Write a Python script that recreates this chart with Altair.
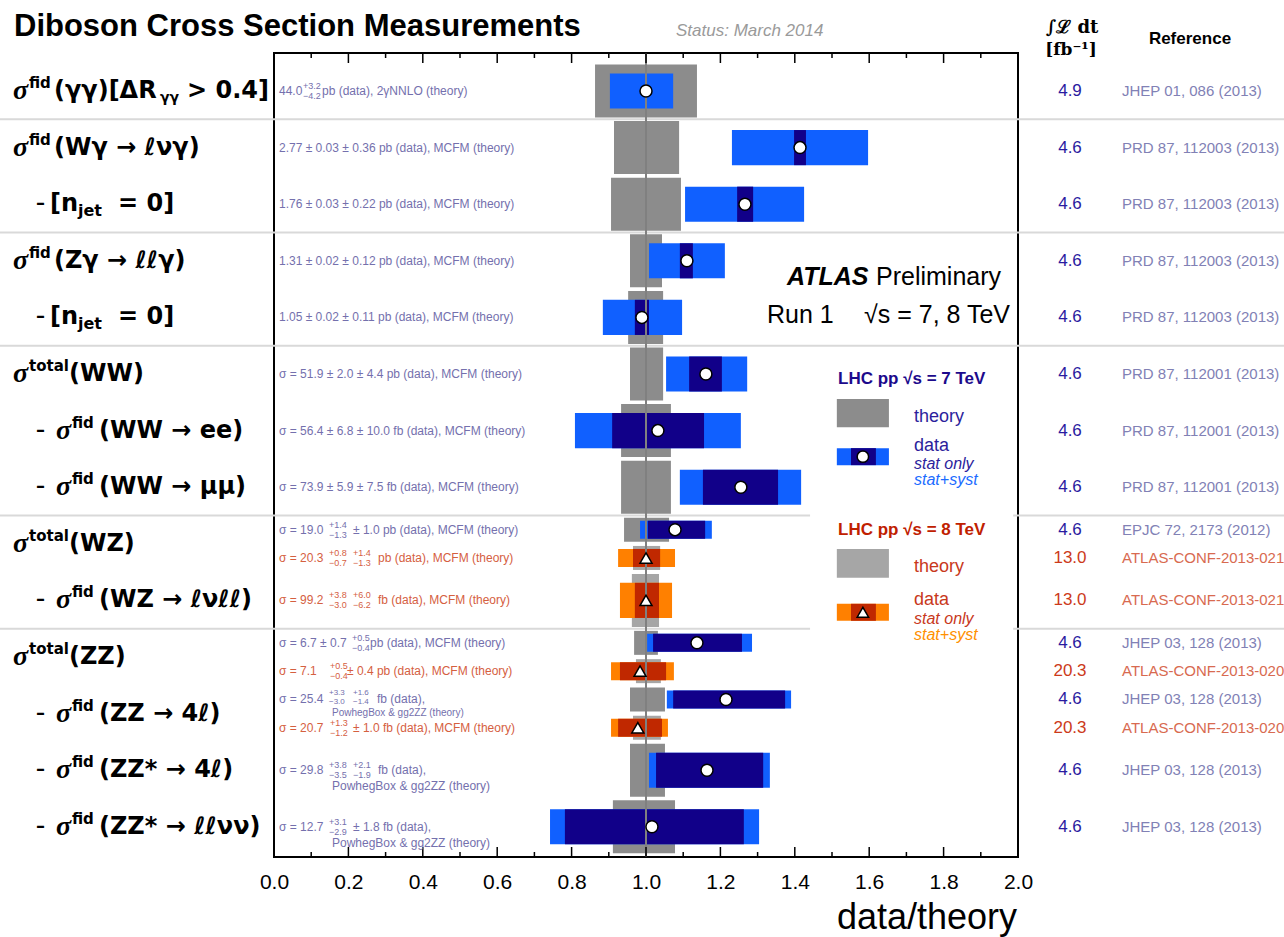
import altair as alt
import pandas as pd

# ---------------- data (ratios data/theory) ----------------
row_pos   = [0, 1, 2, 3, 4, 5, 6, 7, 7.75, 8.25, 9, 9.75, 10.25, 10.75, 11.25, 12, 13]
energy    = [7, 7, 7, 7, 7, 7, 7, 7, 7, 8, 8, 7, 8, 7, 8, 7, 7]
row_kind  = ["full"] * 8 + ["half", "half", "full", "half", "half", "half", "half", "full", "full"]
theory_lo = [0.863, 0.914, 0.906, 0.957, 0.952, 0.957, 0.933, 0.933, 0.941, 0.965, 0.962, 0.968, 0.973, 0.957, 0.965, 0.957, 0.911]
theory_hi = [1.137, 1.089, 1.094, 1.043, 1.046, 1.046, 1.067, 1.067, 1.062, 1.038, 1.035, 1.032, 1.040, 1.051, 1.040, 1.051, 1.078]
total_lo  = [0.903, 1.231, 1.105, 1.008, 0.884, 1.054, 0.809, 1.091, 0.984, 0.925, 0.930, 1.003, 0.906, 1.056, 0.906, 1.008, 0.742]
total_hi  = [1.073, 1.597, 1.425, 1.212, 1.097, 1.272, 1.255, 1.417, 1.177, 1.078, 1.070, 1.285, 1.075, 1.390, 1.059, 1.333, 1.304]
stat_lo   = [1.000, 1.398, 1.245, 1.091, 0.970, 1.116, 0.909, 1.153, 1.005, 0.965, 0.970, 1.019, 0.930, 1.073, 0.925, 1.027, 0.782]
stat_hi   = [1.000, 1.430, 1.288, 1.126, 1.008, 1.204, 1.156, 1.355, 1.159, 1.038, 1.035, 1.258, 1.054, 1.374, 1.043, 1.315, 1.263]
central   = [1.000, 1.414, 1.266, 1.110, 0.989, 1.161, 1.032, 1.255, 1.078, 1.000, 1.000, 1.137, 0.984, 1.215, 0.978, 1.164, 1.016]
lumi_vals = ["4.9", "4.6", "4.6", "4.6", "4.6", "4.6", "4.6", "4.6", "4.6", "13.0", "13.0",
             "4.6", "20.3", "4.6", "20.3", "4.6", "4.6"]
references = ["JHEP 01, 086 (2013)", "PRD 87, 112003 (2013)", "PRD 87, 112003 (2013)",
              "PRD 87, 112003 (2013)", "PRD 87, 112003 (2013)", "PRD 87, 112001 (2013)",
              "PRD 87, 112001 (2013)", "PRD 87, 112001 (2013)", "EPJC 72, 2173 (2012)",
              "ATLAS-CONF-2013-021", "ATLAS-CONF-2013-021", "JHEP 03, 128 (2013)",
              "ATLAS-CONF-2013-020", "JHEP 03, 128 (2013)", "ATLAS-CONF-2013-020",
              "JHEP 03, 128 (2013)", "JHEP 03, 128 (2013)"]
separators = [0.5, 2.5, 4.5, 7.5, 9.5]
MAJOR = [0.0, 0.2, 0.4, 0.6, 0.8, 1.0, 1.2, 1.4, 1.6, 1.8, 2.0]
MINOR = [0.1, 0.3, 0.5, 0.7, 0.9, 1.1, 1.3, 1.5, 1.7, 1.9]

# ---------------- layout / style ----------------
LEFT, TOP, W, H = 274, 53, 744, 804
UNIT, Y0 = 56.6, 91
ydom = [-(Y0 - TOP) / UNIT, (TOP + H - Y0) / UNIT]
yscale = alt.Scale(domain=ydom, reverse=True, nice=False, zero=False)
xscale = alt.Scale(domain=[0, 2], nice=False, zero=False)
NARROW = "Liberation Sans Narrow, Liberation Sans"
SANS = "Liberation Sans"
XA = alt.Axis(values=MAJOR, format=".1f", ticks=False, domain=False, grid=False,
              labelFontSize=21, labelFont=NARROW, labelColor="black", labelPadding=14,
              labelFlush=False, labelOverlap=False, title=None)


def X(f):
    return alt.X(f, type="quantitative", scale=xscale, axis=XA)


def Y(f):
    return alt.Y(f, type="quantitative", scale=yscale, axis=None)


half_th = {"full": 0.936 / 2, "half": 0.424 / 2}
half_da = {"full": 0.62 / 2, "half": 0.318 / 2}

df = pd.DataFrame(dict(pos=row_pos, e=energy, kind=row_kind, th_lo=theory_lo, th_hi=theory_hi,
                       to_lo=total_lo, to_hi=total_hi, st_lo=stat_lo, st_hi=stat_hi, c=central))
df["th_y"] = df.pos - df.kind.map(half_th)
df["th_y2"] = df.pos + df.kind.map(half_th)
df["da_y"] = df.pos - df.kind.map(half_da)
df["da_y2"] = df.pos + df.kind.map(half_da)
df["th_col"] = df.e.map({7: "#8c8c8c", 8: "#a6a6a6"})
df["sy_col"] = df.e.map({7: "#1060ff", 8: "#ff8000"})
df["st_col"] = df.e.map({7: "#110089", 8: "#c02800"})
df["shp"] = df.e.map({7: "circle", 8: "triangle-up"})

NOC = dict(legend=None, scale=None)

sep = alt.Chart(pd.DataFrame({"s": separators})).mark_rule(color="#d9d9d9", strokeWidth=2).encode(
    y=Y("s"), x=alt.value(-LEFT), x2=alt.value(1284 - LEFT))

theory = alt.Chart(df).mark_rect().encode(
    x=X("th_lo"), x2="th_hi", y=Y("th_y"), y2="th_y2", color=alt.Color("th_col:N", **NOC))
syst = alt.Chart(df).mark_rect().encode(
    x=X("to_lo"), x2="to_hi", y=Y("da_y"), y2="da_y2", color=alt.Color("sy_col:N", **NOC))
stat = alt.Chart(df).mark_rect().encode(
    x=X("st_lo"), x2="st_hi", y=Y("da_y"), y2="da_y2", color=alt.Color("st_col:N", **NOC))

legbg = alt.Chart(pd.DataFrame({"a": [1.441], "b": [1.987], "c": [4.66], "d": [9.79]})).mark_rect(
    color="white").encode(x=X("a"), x2="b", y=Y("c"), y2="d")

vline = alt.Chart(pd.DataFrame({"v": [1.0]})).mark_rule(color="#808080", strokeWidth=2).encode(
    x=X("v"), y=alt.value(0), y2=alt.value(H))

markers = alt.Chart(df).mark_point(filled=True, fill="white", stroke="black", strokeWidth=1.5,
                                   size=144, opacity=1).encode(
    x=X("c"), y=Y("pos"), shape=alt.Shape("shp:N", **NOC))

tk = pd.DataFrame({"v": MAJOR + MINOR, "len": [10] * len(MAJOR) + [5] * len(MINOR)})
tk["b"] = H - tk["len"]
ticks_top = alt.Chart(tk).mark_rule(color="black", strokeWidth=1.5).encode(
    x=X("v"), y=alt.Y("len:Q", scale=None, axis=None), y2=alt.value(0))
ticks_bot = alt.Chart(tk).mark_rule(color="black", strokeWidth=1.5).encode(
    x=X("v"), y=alt.Y("b:Q", scale=None, axis=None), y2=alt.value(H))

# legend graphics (in data units)
leg = pd.DataFrame({
    "a": [1.513, 1.513, 1.551, 1.513, 1.513, 1.551],
    "b": [1.653, 1.653, 1.618, 1.653, 1.653, 1.618],
    "c": [5.44, 6.31, 6.31, 8.09, 9.06, 9.06],
    "d": [5.94, 6.61, 6.61, 8.60, 9.36, 9.36],
    "col": ["#8c8c8c", "#1060ff", "#110089", "#a6a6a6", "#ff8000", "#c02800"]})
leg_rect = alt.Chart(leg).mark_rect().encode(x=X("a"), x2="b", y=Y("c"), y2="d",
                                             color=alt.Color("col:N", **NOC))
legm = pd.DataFrame({"x": [1.583, 1.583], "y": [6.46, 9.21], "shp": ["circle", "triangle-up"]})
leg_mark = alt.Chart(legm).mark_point(filled=True, fill="white", stroke="black", strokeWidth=1.5,
                                      size=130, opacity=1).encode(
    x=X("x"), y=Y("y"), shape=alt.Shape("shp:N", **NOC))


# ---------------- text helpers ----------------
def row_text(rows, dy=0, font=SANS, weight="normal", style="normal", align="left"):
    d = pd.DataFrame(rows, columns=["row", "X", "t", "fs", "col"])
    d["px"] = d["X"] - LEFT
    return alt.Chart(d).mark_text(dy=dy, font=font, fontWeight=weight, fontStyle=style,
                                  align=align, baseline="middle").encode(
        x=alt.X("px:Q", scale=None, axis=None), y=Y("row"), text="t:N",
        size=alt.Size("fs:Q", **NOC), color=alt.Color("col:N", **NOC))


def abs_text(rows, font=SANS, weight="normal", style="normal", align="left", baseline="middle"):
    d = pd.DataFrame(rows, columns=["X", "Y", "t", "fs", "col"])
    d["px"] = d["X"] - LEFT
    d["py"] = d["Y"] - TOP
    return alt.Chart(d).mark_text(font=font, fontWeight=weight, fontStyle=style,
                                  align=align, baseline=baseline).encode(
        x=alt.X("px:Q", scale=None, axis=None), y=alt.Y("py:Q", scale=None, axis=None),
        text="t:N", size=alt.Size("fs:Q", **NOC), color=alt.Color("col:N", **NOC))


E = dict(zip(row_pos, energy))
C7, C8 = "#7470ad", "#d5603f"


def ac(r):
    return C7 if E[r] == 7 else C8


ann_main = [
    (0, 279, "44.0"), (0, 322, "pb (data), 2γNNLO (theory)"),
    (1, 279, "2.77 ± 0.03 ± 0.36 pb (data), MCFM (theory)"),
    (2, 279, "1.76 ± 0.03 ± 0.22 pb (data), MCFM (theory)"),
    (3, 279, "1.31 ± 0.02 ± 0.12 pb (data), MCFM (theory)"),
    (4, 279, "1.05 ± 0.02 ± 0.11 pb (data), MCFM (theory)"),
    (5, 279, "σ = 51.9 ± 2.0 ± 4.4 pb (data), MCFM (theory)"),
    (6, 279, "σ = 56.4 ± 6.8 ± 10.0 fb (data), MCFM (theory)"),
    (7, 279, "σ = 73.9 ± 5.9 ± 7.5 fb (data), MCFM (theory)"),
    (7.75, 279, "σ = 19.0"), (7.75, 353, "± 1.0 pb (data), MCFM (theory)"),
    (8.25, 279, "σ = 20.3"), (8.25, 378, "pb (data), MCFM (theory)"),
    (9, 279, "σ = 99.2"), (9, 378, "fb (data), MCFM (theory)"),
    (9.75, 279, "σ = 6.7 ± 0.7"), (9.75, 370, "pb (data), MCFM (theory)"),
    (10.25, 279, "σ = 7.1"), (10.25, 347, "± 0.4 pb (data), MCFM (theory)"),
    (10.75, 279, "σ = 25.4"), (10.75, 377, "fb (data),"),
    (11.25, 279, "σ = 20.7"), (11.25, 353, "± 1.0 fb (data), MCFM (theory)"),
    (12, 279, "σ = 29.8"), (12, 378, "fb (data),"),
    (13, 279, "σ = 12.7"), (13, 353, "± 1.8 fb (data),"),
]
ann_sup = [(0, 303, "+3.2"), (7.75, 329, "+1.4"), (8.25, 329, "+0.8"), (8.25, 353, "+1.4"),
           (9, 329, "+3.8"), (9, 353, "+6.0"), (9.75, 352, "+0.5"), (10.25, 330, "+0.5"),
           (11.25, 330, "+1.3"), (12, 329, "+3.8"),
           (12, 353, "+2.1"), (13, 329, "+3.1")]
ann_sub = [(0, 303, "−4.2"), (7.75, 329, "−1.3"), (8.25, 329, "−0.7"), (8.25, 353, "−1.3"),
           (9, 329, "−3.0"), (9, 353, "−6.2"), (9.75, 352, "−0.4"), (10.25, 330, "−0.4"),
           (11.25, 330, "−1.2"), (12, 329, "−3.5"),
           (12, 353, "−1.9"), (13, 329, "−2.9")]
# the crowded ZZ -> 4l (7 TeV) entry
ann_sup_t = [(10.75, 329, "+3.3"), (10.75, 353, "+1.6")]
ann_sub_t = [(10.75, 329, "−3.0"), (10.75, 353, "−1.4")]
ann_l2_tight = [(10.75, 332, "PowhegBox & gg2ZZ (theory)")]
ann_l2 = [(12, 332, "PowhegBox & gg2ZZ (theory)"), (13, 332, "PowhegBox & gg2ZZ (theory)")]

t_ann = row_text([(r, x, t, 12, ac(r)) for r, x, t in ann_main])
t_sup = row_text([(r, x, t, 9, ac(r)) for r, x, t in ann_sup], dy=-5)
t_sub = row_text([(r, x, t, 9, ac(r)) for r, x, t in ann_sub], dy=5)
t_sup_t = row_text([(r, x, t, 8, ac(r)) for r, x, t in ann_sup_t], dy=-6)
t_sub_t = row_text([(r, x, t, 8, ac(r)) for r, x, t in ann_sub_t], dy=3)
t_l2 = row_text([(r, x, t, 12, ac(r)) for r, x, t in ann_l2], dy=16)
t_l2b = row_text([(r, x, t, 10, ac(r)) for r, x, t in ann_l2_tight], dy=14)

# left-hand labels
top_rows, sub_rows = [0, 1, 3, 5, 8, 10], [6, 7, 9, 11, 12, 13]
lab_sigma = row_text([(r, 13, "σ", 28, "black") for r in top_rows] +
                     [(r, 56, "σ", 28, "black") for r in sub_rows],
                     font="Liberation Serif", weight="bold", style="italic")
lab_sup = row_text([(0, 29, "fid", 15, "black"), (1, 29, "fid", 15, "black"), (3, 29, "fid", 15, "black"),
                    (5, 29, "total", 15, "black"), (8, 29, "total", 15, "black"), (10, 29, "total", 15, "black")] +
                   [(r, 72, "fid", 15, "black") for r in sub_rows],
                   dy=-8, font="DejaVu Sans", weight="bold")
lab_main = row_text([
    (0, 54, "(γγ)[ΔR", 24, "black"), (0, 187, "> 0.4]", 24, "black"),
    (1, 54, "(Wγ → ℓνγ)", 24, "black"),
    (2, 50, "[n", 24, "black"), (2, 118, "= 0]", 24, "black"),
    (3, 54, "(Zγ → ℓℓγ)", 24, "black"),
    (4, 50, "[n", 24, "black"), (4, 118, "= 0]", 24, "black"),
    (5, 69, "(WW)", 24, "black"),
    (6, 99, "(WW → ee)", 24, "black"),
    (7, 99, "(WW → μμ)", 24, "black"),
    (8, 69, "(WZ)", 24, "black"),
    (9, 99, "(WZ → ℓνℓℓ)", 24, "black"),
    (10, 69, "(ZZ)", 24, "black"),
    (11, 99, "(ZZ → 4ℓ)", 24, "black"),
    (12, 99, "(ZZ* → 4ℓ)", 24, "black"),
    (13, 99, "(ZZ* → ℓℓνν)", 24, "black"),
], font="DejaVu Sans", weight="bold")
lab_sub = row_text([(0, 160, "γγ", 14, "black"), (2, 78, "jet", 16, "black"), (4, 78, "jet", 16, "black")],
                   dy=7, font="DejaVu Sans", weight="bold")
lab_dash = row_text([(r, 36, "–", 18, "black") for r in [2, 4, 6, 7, 9, 11, 12, 13]],
                    font="DejaVu Sans", weight="bold")

# right-hand columns
t_lumi = row_text([(r, 1070, v, 17, "#2a1aa0" if e == 7 else "#cc3a1a")
                   for r, v, e in zip(row_pos, lumi_vals, energy)], align="center")
t_ref = row_text([(r, 1122, v, 15, "#8181b5" if e == 7 else "#d86a50")
                  for r, v, e in zip(row_pos, references, energy)])

# headers and annotations
h_title = abs_text([(14, 36, "Diboson Cross Section Measurements", 31, "black")], weight="bold",
                   baseline="alphabetic")
h_status = abs_text([(676, 36, "Status: March 2014", 17, "#9a9a9a")], style="italic", baseline="alphabetic")
h_ref = abs_text([(1190, 39, "Reference", 17, "black")], weight="bold", align="center")
h_lumi = abs_text([(1072, 28, "∫ℒ dt", 18, "black"), (1071, 50, "[fb⁻¹]", 17, "black")],
                  font="DejaVu Serif", weight="bold", align="center")
h_atlas = abs_text([(787, 277, "ATLAS", 25, "black")], weight="bold", style="italic")
h_prel = abs_text([(876, 277, "Preliminary", 25, "black"), (767, 315, "Run 1", 25, "black")])
h_sqrt = abs_text([(1010, 315, "√s = 7, 8 TeV", 25, "black")], align="right")
h_xt = abs_text([(1017, 918, "data/theory", 36, "black")], font=NARROW, align="right")

leg_title = abs_text([(838, 379, "LHC pp  √s = 7 TeV", 17, "#1c0a8c"),
                      (838, 530, "LHC pp  √s = 8 TeV", 17, "#c02000")], weight="bold")
leg_txt = abs_text([(914, 417, "theory", 18, "#2c1e9c"), (914, 446, "data", 18, "#2c1e9c"),
                    (914, 567, "theory", 18, "#c8381c"), (914, 600, "data", 18, "#c8381c")])
leg_it = abs_text([(914, 464, "stat only", 16, "#2c1e9c"), (914, 480, "stat+syst", 16, "#1c6cff"),
                   (914, 619, "stat only", 16, "#c8381c"), (914, 635, "stat+syst", 16, "#ff9000")],
                  style="italic")

chart = alt.layer(
    sep, theory, syst, stat, legbg, vline, markers, ticks_top, ticks_bot, leg_rect, leg_mark,
    t_ann, t_sup, t_sub, t_sup_t, t_sub_t, t_l2, t_l2b, lab_sigma, lab_sup, lab_main, lab_sub,
    lab_dash, t_lumi, t_ref,
    h_title, h_status, h_ref, h_lumi, h_atlas, h_prel, h_sqrt, h_xt, leg_title, leg_txt, leg_it
).properties(
    width=W, height=H,
    padding={"left": LEFT, "top": TOP, "right": 1284 - LEFT - W, "bottom": 937 - TOP - H},
    autosize=alt.AutoSizeParams(type="none"),
).configure(background="white").configure_view(stroke="black", strokeWidth=2)

chart.save("out.html", embed_options={"renderer": "svg", "actions": False})
